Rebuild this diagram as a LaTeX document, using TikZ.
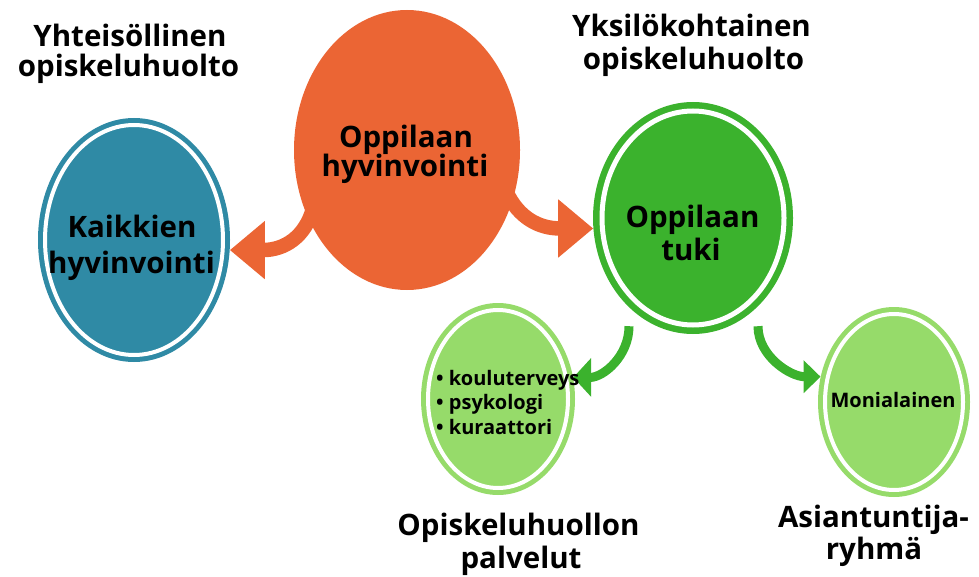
\documentclass[tikz,border=0pt]{standalone}
\usepackage{fontspec}
\setmainfont{Open Sans}
\usetikzlibrary{arrows.meta,calc,shapes.geometric}
\definecolor{cblue}{HTML}{2F8AA5}
\definecolor{corange}{HTML}{EB6534}
\definecolor{cgreen}{HTML}{3BB22D}
\definecolor{clight}{HTML}{96DB6A}
\pgfdeclarelayer{bg}
\pgfsetlayers{bg,main}
\begin{document}
\begin{tikzpicture}[x=1pt,y=-1pt,
  blob/.style={shape=ellipse, inner sep=0pt, draw=none},
  ring/.style={draw=white, line width=#1},
  txt/.style={font=\bfseries\fontsize{29.5}{33}\selectfont, anchor=base, inner sep=0pt, text=black},
  smalltxt/.style={font=\bfseries\fontsize{20}{24}\selectfont, inner sep=0pt, text=black},
  bigarrow/.style={draw=corange, line width=14.5pt, -{Triangle[length=35pt,width=56pt]}},
  greenarrowL/.style={draw=cgreen, line width=9pt, -{Triangle[length=18pt,width=38pt]}},
  greenarrowR/.style={draw=cgreen, line width=9pt, -{Triangle[length=17pt,width=32pt]}}]
\useasboundingbox (0,0) rectangle (979,577);

% ellipses
\node[blob, fill=cblue, minimum width=192pt, minimum height=244pt] (kaikki) at (134,240) {};
\draw[ring=4pt] (kaikki.center) ellipse [x radius=89pt, y radius=115pt];
\node[blob, fill=corange, minimum width=226pt, minimum height=280pt] (orange) at (407,150) {};
\node[blob, fill=cgreen, minimum width=200pt, minimum height=232pt] (tuki) at (693,218) {};
\draw[ring=5pt] (tuki.center) ellipse [x radius=91pt, y radius=107pt];
\node[blob, fill=clight, minimum width=154pt, minimum height=192pt] (opl) at (498,399) {};
\draw[ring=4pt] (opl.center) ellipse [x radius=70pt, y radius=89pt];
\node[blob, fill=clight, minimum width=152pt, minimum height=190pt] (mon) at (894,402) {};
\draw[ring=4pt] (mon.center) ellipse [x radius=69pt, y radius=88pt];

% arrows
\begin{pgfonlayer}{bg}
\draw[bigarrow] ($(orange.center)!0.93!(orange.212)$) .. controls +(-8,28) and +(55,0) .. (kaikki.-6);
\draw[bigarrow] ($(orange.center)!0.93!(orange.-23)$) .. controls +(12,25) and +(-55,0) .. (tuki.186);
\draw[greenarrowL] ($(tuki.south)+(-64,-8)$) .. controls +(0,30) and +(30,0) .. (opl.16);
\draw[greenarrowR] ($(tuki.south)+(65,-8)$) .. controls +(0,30) and +(-30,0) .. (mon.161);
\end{pgfonlayer}

% titles
\node[txt] (t1a) at (130,47) {Yhteisöllinen};
\node[txt] (t1b) at (128.5,77) {opiskeluhuolto};
\node[txt] (t2a) at (691.5,37) {Yksilökohtainen};
\node[txt] (t2b) at (693.5,70) {opiskeluhuolto};

% ellipse texts
\node[txt] (o1) at (406,148) {Oppilaan};
\node[txt] (o2) at (405,177) {hyvinvointi};
\node[txt] (k1) at (132,238) {Kaikkien};
\node[txt] (k2) at (131.5,273) {hyvinvointi};
\node[txt] (g1) at (692.5,228) {Oppilaan};
\node[txt] (g2) at (691,260) {tuki};

\node[smalltxt, anchor=base west] (b1) at (436,385) {• kouluterveys};
\node[smalltxt, anchor=base west] (b2) at (436,409) {• psykologi};
\node[smalltxt, anchor=base west] (b3) at (436,434) {• kuraattori};
\node[smalltxt, anchor=base] (m1) at (893,407) {Monialainen};

% bottom labels
\node[txt] (p1) at (518.5,535) {Opiskeluhuollon};
\node[txt] (p2) at (521,568) {palvelut};
\node[txt] (a1) at (873.5,527) {Asiantuntija-};
\node[txt] (a2) at (874,559) {ryhmä};
\end{tikzpicture}
\end{document}
